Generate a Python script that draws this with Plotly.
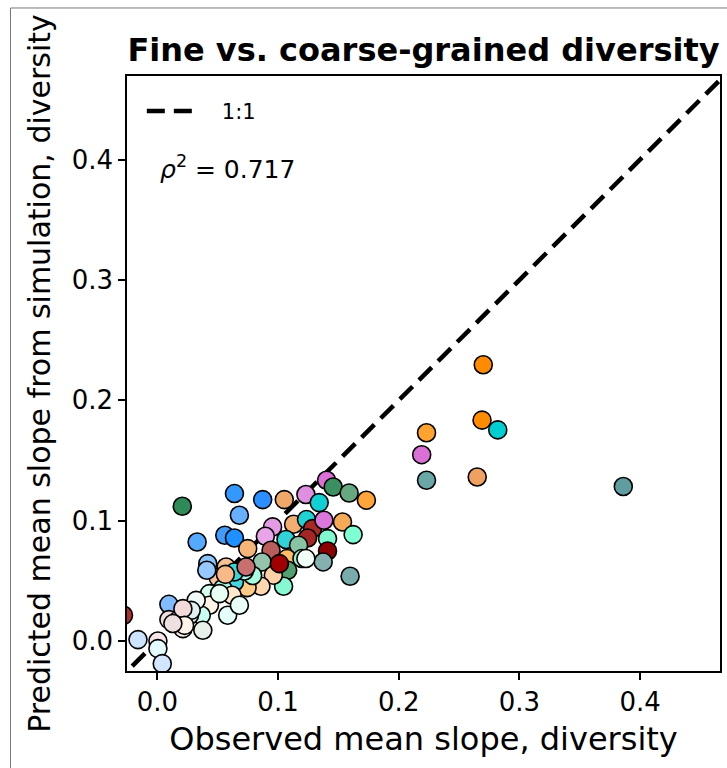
import plotly.graph_objects as go

# Observed mean slope (x) and predicted mean slope from simulation (y)
obs_slope = [
    0.270, 0.223, 0.269, 0.282, 0.219, 0.223, 0.265, 0.386,
    0.0207, 0.0639, 0.0873, 0.068, 0.1052, 0.1231, 0.1402, 0.1457, 0.1589, 0.1732, 0.1341,
    0.033, 0.0559, 0.0639, 0.0955, 0.0895, 0.1129, 0.1236, 0.1286, 0.1245, 0.138, 0.1534,
    0.1622, 0.141, 0.141, 0.1374, 0.1597, 0.1066, 0.117, 0.0942, 0.0749, 0.1074, 0.1198,
    0.0868, 0.108, 0.1046, 0.0961, 0.0859, 0.0744, 0.079, 0.057, 0.0504, 0.0418, 0.041,
    0.0639, 0.0542, 0.062, 0.0432, 0.0432, 0.0364, 0.0267, 0.0096, 0.0096, 0.017, 0.0212,
    0.0377, 0.0583, 0.068, -0.016, 0.0005, 0.0005, 0.0041, -0.028,
    0.0721, 0.0639, 0.0735, 0.1011, 0.1231, 0.0322, 0.0281, 0.0212, 0.0226, 0.0129, 0.0515, 0.0564,
]
pred_slope = [
    0.2295, 0.173, 0.1835, 0.1754, 0.1548, 0.1336, 0.1363, 0.1284,
    0.112, 0.1225, 0.1175, 0.1045, 0.1175, 0.1217, 0.1336, 0.128, 0.123, 0.117, 0.115,
    0.0823, 0.0879, 0.0856, 0.0948, 0.087, 0.097, 0.1009, 0.0934, 0.0856, 0.1003, 0.0989,
    0.0884, 0.0851, 0.0748, 0.0657, 0.0538, 0.0843, 0.0796, 0.0754, 0.0768, 0.0685, 0.0685,
    0.0657, 0.0588, 0.0455, 0.0546, 0.0455, 0.0444, 0.0544, 0.0615, 0.0527, 0.0643, 0.0588,
    0.049, 0.0436, 0.038, 0.0394, 0.0297, 0.0214, 0.0214, 0.0305, 0.0178, 0.0172, 0.0103,
    0.0089, 0.0214, 0.0297, 0.0012, 0.0, -0.0063, -0.0188, 0.0214,
    0.0582, 0.0574, 0.0615, 0.0643, 0.0685, 0.0338, 0.0255, 0.0269, 0.013, 0.0145, 0.0394, 0.0554,
]
point_colors = [
    "#ff8c00", "#ffa330", "#ff8c00", "#00ced1", "#da70d6", "#6aa7a7", "#f0a060", "#5f9ea0",
    "#2e8b57", "#3399ff", "#2b8fff", "#66b0ff", "#f0a868", "#e08ee0", "#da70d6", "#3a9060", "#66a880", "#ffa53a", "#10d0d4",
    "#55aaff", "#409cf8", "#1e90ff", "#e49ae4", "#e8a4e8", "#f2ad70", "#20d2d4", "#a82828", "#a52424", "#dc78dc", "#f5aa58",
    "#7fffd4", "#80f8d0", "#8b0000", "#84b0b0", "#78acac", "#30d4d8", "#88c4a4", "#b85c5c", "#f5b478", "#ffbb66", "#94f4d4",
    "#94c4ac", "#50a070", "#86f8d2", "#ffd2a6", "#ffd8b0", "#ffcc88", "#a8fce0", "#f5c092", "#f8c49a", "#8cc4ff", "#94c8ff",
    "#44d8dc", "#a8f8e0", "#ffe8cc", "#d4fff0", "#fff2e6", "#c8fff2", "#e8e4ea", "#80bcff", "#f0dede", "#f8e8ec", "#fcefe6",
    "#e8f0ea", "#e4fffa", "#eafff8", "#cce4ff", "#f6e6ea", "#e4fcff", "#d2e6ff", "#b03030",
    "#b0fce6", "#3cd6d8", "#c87070", "#a00000", "#f2fff8", "#f0f8f8", "#e0f0f0", "#f2dada", "#fff4ea", "#eee0e0", "#e8fff4", "#f8b888",
]

one_to_one = [-0.1, 0.6]
tick_values = [0.0, 0.1, 0.2, 0.3, 0.4]
tick_labels = ["0.0", "0.1", "0.2", "0.3", "0.4"]
rho_sq = 0.717

FONT = "DejaVu Sans"

fig = go.Figure()
fig.add_trace(go.Scatter(
    x=one_to_one, y=one_to_one, mode="lines", name="\u00a0\u00a0\u00a01:1",
    line=dict(color="black", width=4.5, dash="18px,9px"),
))
fig.add_trace(go.Scatter(
    x=obs_slope, y=pred_slope, mode="markers", showlegend=False,
    marker=dict(size=18, color=point_colors, line=dict(color="black", width=1.6)),
))

axis_common = dict(
    showline=True, linecolor="black", linewidth=1.5, mirror=True,
    ticks="outside", ticklen=7, tickwidth=1.5, tickcolor="black",
    showgrid=False, zeroline=False,
    tickvals=tick_values, ticktext=tick_labels,
    tickfont=dict(family=FONT, size=26, color="black"),
)

fig.update_layout(
    width=727, height=768,
    margin=dict(l=127, r=5, t=76, b=97),
    plot_bgcolor="white", paper_bgcolor="white",
    font=dict(family=FONT, color="black"),
    title=dict(
        text="<b>Fine vs. coarse-grained diversity</b>",
        font=dict(family=FONT, size=32, color="black"),
        x=0.5, xref="paper", xanchor="center",
        y=1 - 50 / 768, yref="container", yanchor="middle",
    ),
    xaxis=dict(
        range=[-0.0251, 0.4661],
        title=dict(text="Observed mean slope, diversity",
                   font=dict(family=FONT, size=32, color="black"), standoff=12),
        **axis_common,
    ),
    yaxis=dict(
        range=[-0.0249, 0.4694],
        title=dict(text="Predicted mean slope from simulation, diversity",
                   font=dict(family=FONT, size=30, color="black"), standoff=12),
        **axis_common,
    ),
    legend=dict(
        x=0.025, y=0.975, xanchor="left", yanchor="top",
        bgcolor="rgba(0,0,0,0)", borderwidth=0,
        font=dict(family=FONT, size=21, color="black"),
        itemwidth=50,
    ),
    annotations=[dict(
        text=f"<i>ρ</i><sup>2</sup> = {rho_sq:.3f}",
        xref="paper", yref="paper", x=0.053, y=0.847,
        xanchor="left", yanchor="middle", showarrow=False,
        font=dict(family=FONT, size=25, color="black"),
    )],
    shapes=[dict(
        type="rect", xref="paper", yref="paper",
        x0=-0.1965, x1=1.3, y0=-0.5, y1=1.1143,
        line=dict(color="#777777", width=1), fillcolor="rgba(0,0,0,0)",
        layer="below",
    )],
)

fig.write_html("out.html")
